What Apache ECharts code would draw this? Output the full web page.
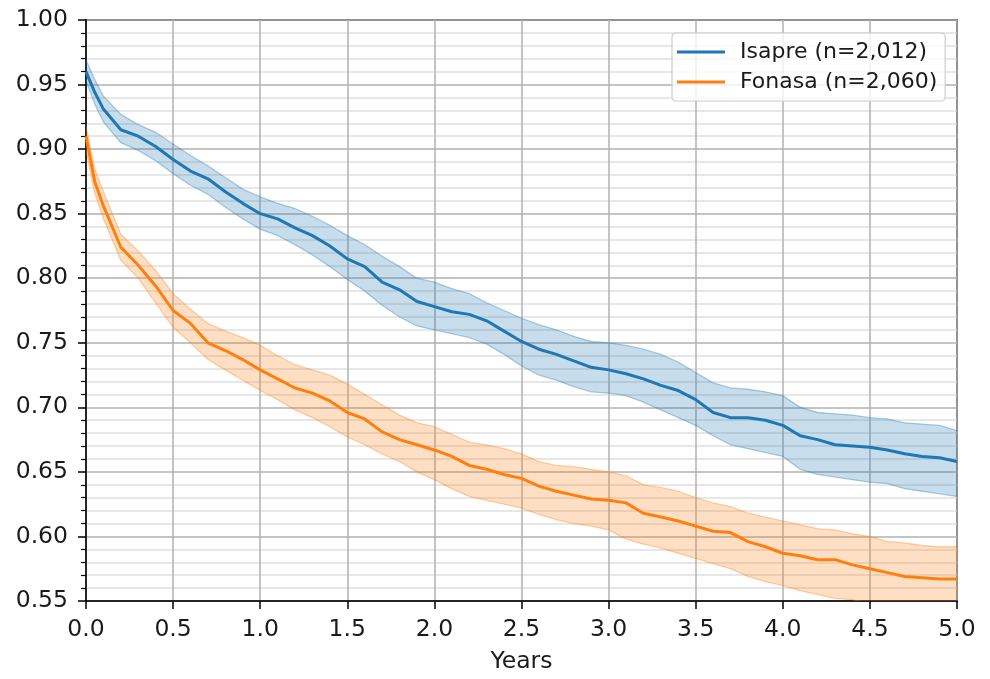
<!DOCTYPE html>
<html>
<head>
<meta charset="utf-8">
<script src="https://cdn.jsdelivr.net/npm/echarts@6/dist/echarts.min.js"></script>
<style>
html,body{margin:0;padding:0;background:#fff;}
#chart{width:990px;height:679px;}
</style>
</head>
<body>
<div id="chart"></div>
<script>
// ---- Data ----
var years = [0, 0.05, 0.1, 0.2, 0.3, 0.4, 0.5, 0.6, 0.7, 0.8, 0.9, 1.0, 1.1, 1.2, 1.3, 1.4, 1.5, 1.6, 1.7, 1.8, 1.9, 2.0, 2.1, 2.2, 2.3, 2.4, 2.5, 2.6, 2.7, 2.8, 2.9, 3.0, 3.1, 3.2, 3.3, 3.4, 3.5, 3.6, 3.7, 3.8, 3.9, 4.0, 4.1, 4.2, 4.3, 4.4, 4.5, 4.6, 4.7, 4.8, 4.9, 5.0];

var isapreName = 'Isapre (n=2,012)';
var isapreSurv = [0.960, 0.944, 0.931, 0.915, 0.910, 0.902, 0.892, 0.883, 0.877, 0.867, 0.858, 0.850, 0.846, 0.839, 0.833, 0.825, 0.815, 0.809, 0.797, 0.791, 0.782, 0.778, 0.774, 0.772, 0.767, 0.759, 0.751, 0.745, 0.741, 0.736, 0.731, 0.729, 0.726, 0.722, 0.717, 0.713, 0.706, 0.696, 0.692, 0.692, 0.690, 0.686, 0.678, 0.675, 0.671, 0.670, 0.669, 0.667, 0.664, 0.662, 0.661, 0.658];
var isapreUpper = [0.969, 0.954, 0.941, 0.927, 0.919, 0.913, 0.904, 0.895, 0.887, 0.878, 0.869, 0.863, 0.858, 0.854, 0.848, 0.841, 0.833, 0.826, 0.817, 0.809, 0.800, 0.797, 0.792, 0.788, 0.781, 0.775, 0.769, 0.764, 0.760, 0.755, 0.751, 0.750, 0.748, 0.745, 0.741, 0.735, 0.727, 0.719, 0.715, 0.714, 0.712, 0.709, 0.700, 0.696, 0.695, 0.694, 0.692, 0.691, 0.688, 0.687, 0.686, 0.682];
var isapreLower = [0.953, 0.935, 0.921, 0.905, 0.899, 0.891, 0.881, 0.872, 0.865, 0.855, 0.846, 0.838, 0.833, 0.826, 0.818, 0.809, 0.799, 0.790, 0.779, 0.770, 0.763, 0.760, 0.757, 0.754, 0.749, 0.741, 0.732, 0.725, 0.721, 0.716, 0.712, 0.711, 0.709, 0.704, 0.698, 0.692, 0.686, 0.678, 0.671, 0.668, 0.665, 0.662, 0.652, 0.648, 0.646, 0.644, 0.642, 0.641, 0.637, 0.635, 0.633, 0.631];

var fonasaName = 'Fonasa (n=2,060)';
var fonasaSurv = [0.910, 0.875, 0.856, 0.824, 0.810, 0.794, 0.775, 0.765, 0.750, 0.744, 0.737, 0.729, 0.722, 0.715, 0.711, 0.705, 0.696, 0.691, 0.681, 0.675, 0.671, 0.667, 0.662, 0.655, 0.652, 0.648, 0.645, 0.639, 0.635, 0.632, 0.629, 0.628, 0.626, 0.618, 0.615, 0.612, 0.608, 0.604, 0.603, 0.596, 0.592, 0.587, 0.585, 0.582, 0.582, 0.578, 0.575, 0.572, 0.569, 0.568, 0.567, 0.567];
var fonasaUpper = [0.918, 0.885, 0.867, 0.834, 0.821, 0.806, 0.788, 0.776, 0.765, 0.759, 0.754, 0.748, 0.740, 0.733, 0.729, 0.725, 0.718, 0.710, 0.702, 0.694, 0.688, 0.685, 0.679, 0.673, 0.671, 0.668, 0.664, 0.658, 0.655, 0.654, 0.652, 0.650, 0.647, 0.640, 0.638, 0.635, 0.630, 0.626, 0.623, 0.618, 0.615, 0.612, 0.609, 0.606, 0.605, 0.602, 0.600, 0.596, 0.595, 0.593, 0.592, 0.592];
var fonasaLower = [0.900, 0.866, 0.846, 0.814, 0.800, 0.781, 0.762, 0.750, 0.737, 0.729, 0.721, 0.713, 0.706, 0.698, 0.692, 0.685, 0.677, 0.671, 0.664, 0.658, 0.650, 0.644, 0.637, 0.631, 0.628, 0.625, 0.622, 0.617, 0.613, 0.610, 0.608, 0.605, 0.598, 0.594, 0.591, 0.587, 0.583, 0.579, 0.575, 0.569, 0.565, 0.562, 0.558, 0.555, 0.552, 0.551, 0.548, 0.546, 0.544, 0.543, 0.542, 0.542];

var xTicks = { min: 0, max: 5, interval: 0.5 };
var yTicks = { min: 0.55, max: 1.0, interval: 0.05 };

// ---- Helpers ----
function pts(ys) { return years.map(function (x, i) { return [x, ys[i]]; }); }

var BLUE = '#1f77b4', ORANGE = '#ff7f0e';
var FONT = 'DejaVu Sans';
var FS = 23.5;
var LFS = 22;

// Confidence band drawn as a polygon through the axis scales (api.coord)
function bandSeries(id, lo, hi, rgb) {
  return {
    name: id, type: 'custom', silent: true, clip: true, z: 2,
    data: [0],
    renderItem: function (params, api) {
      var up = [], down = [];
      for (var i = 0; i < years.length; i++) {
        up.push(api.coord([years[i], hi[i]]));
        down.push(api.coord([years[i], lo[i]]));
      }
      var poly = up.concat(down.slice().reverse());
      var cs = params.coordSys;
      return {
        type: 'group',
        clipPath: { type: 'rect', shape: { x: cs.x, y: cs.y, width: cs.width, height: cs.height } },
        children: [
          { type: 'polygon', shape: { points: poly }, style: { fill: 'rgba(' + rgb + ',0.25)', stroke: null } },
          { type: 'polyline', shape: { points: up }, style: { fill: null, stroke: 'rgba(' + rgb + ',0.35)', lineWidth: 1.3 } },
          { type: 'polyline', shape: { points: down }, style: { fill: null, stroke: 'rgba(' + rgb + ',0.35)', lineWidth: 1.3 } }
        ]
      };
    }
  };
}

var chart = echarts.init(document.getElementById('chart'), null, { renderer: 'canvas' });

var series = [
  bandSeries('isapreBand', isapreLower, isapreUpper, '31,119,180'),
  bandSeries('fonasaBand', fonasaLower, fonasaUpper, '255,127,14'),
  { name: isapreName, type: 'line', data: pts(isapreSurv), symbol: 'none', color: BLUE,
    lineStyle: { color: BLUE, width: 3 }, z: 3, clip: true },
  { name: fonasaName, type: 'line', data: pts(fonasaSurv), symbol: 'none', color: ORANGE,
    lineStyle: { color: ORANGE, width: 3 }, z: 3, clip: true }
];

chart.setOption({
  animation: false,
  backgroundColor: '#ffffff',
  textStyle: { fontFamily: FONT },
  grid: { left: 86, right: 33, top: 20, bottom: 74, show: true, borderColor: '#000', borderWidth: 1.5, backgroundColor: 'transparent' },
  legend: {
    data: [isapreName, fonasaName],
    orient: 'vertical',
    left: 672, top: 33,
    padding: [8, 8, 8, 5],
    itemGap: 8,
    itemWidth: 48, itemHeight: 3,
    icon: 'rect',
    backgroundColor: 'rgba(255,255,255,0.8)',
    borderColor: '#cccccc', borderWidth: 1.2, borderRadius: 4,
    textStyle: { fontFamily: FONT, fontSize: LFS, color: '#1a1a1a', padding: [0, 0, 0, 10], lineHeight: 22 }
  },
  xAxis: {
    type: 'value', min: xTicks.min, max: xTicks.max, interval: xTicks.interval,
    name: 'Years', nameLocation: 'middle', nameGap: 49,
    nameTextStyle: { fontFamily: FONT, fontSize: FS, color: '#1a1a1a' },
    axisLine: { show: true, onZero: false, lineStyle: { color: '#000', width: 1.5 } },
    axisTick: { show: true, length: 8, lineStyle: { color: '#000', width: 1.5 } },
    axisLabel: { fontFamily: FONT, fontSize: FS, color: '#1a1a1a', margin: 17,
      formatter: function (v) { return v.toFixed(1); } },
    splitLine: { show: true, lineStyle: { color: '#b0b0b0', width: 1.5 } }
  },
  yAxis: {
    type: 'value', min: yTicks.min, max: yTicks.max, interval: yTicks.interval,
    axisLine: { show: true, onZero: false, lineStyle: { color: '#000', width: 1.5 } },
    axisTick: { show: true, length: 8, lineStyle: { color: '#000', width: 1.5 } },
    minorTick: { show: true, splitNumber: 5, length: 5, lineStyle: { color: '#000', width: 1.2 } },
    axisLabel: { fontFamily: FONT, fontSize: FS, color: '#1a1a1a', margin: 18,
      formatter: function (v) { return v.toFixed(2); } },
    splitLine: { show: true, lineStyle: { color: '#b0b0b0', width: 1.5 } },
    minorSplitLine: { show: true, lineStyle: { color: '#e0e0e0', width: 1.5 } }
  },
  series: series
});
</script>
</body>
</html>
